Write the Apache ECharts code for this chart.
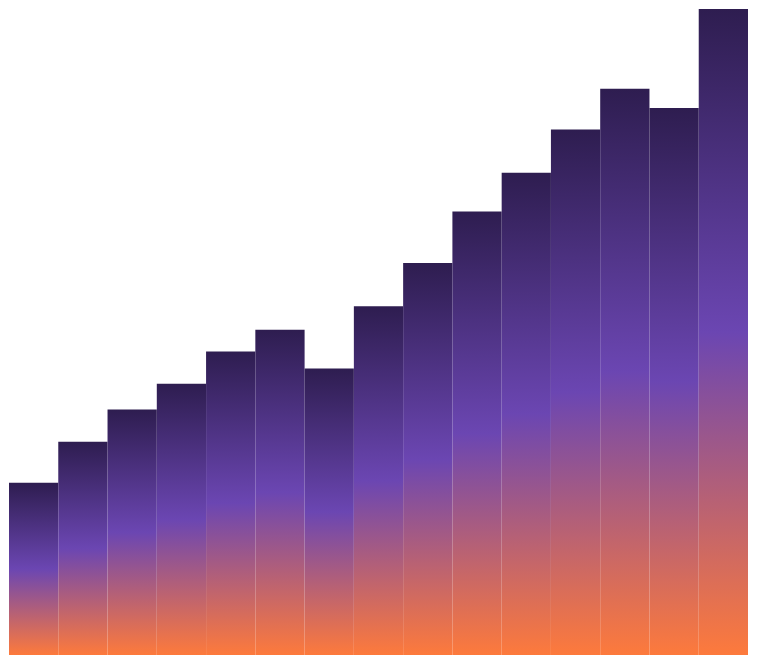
<!DOCTYPE html>
<html>
<head>
<meta charset="utf-8">
<script src="https://cdn.jsdelivr.net/npm/echarts@6/dist/echarts.min.js"></script>
<style>html,body{margin:0;padding:0;background:#fff}#c{width:758px;height:665px}</style>
</head>
<body>
<div id="c"></div>
<script>
const categories = ['1','2','3','4','5','6','7','8','9','10','11','12','13','14','15'];
const values = [80, 99, 114, 126, 141, 151, 133, 162, 182, 206, 224, 244, 263, 254, 300];
const gradientColors = ['#2e1d50', '#6b46b2', '#fd7a3c'];

const chart = echarts.init(document.getElementById('c'));
chart.setOption({
  animation: false,
  grid: { left: 9, right: 10, top: 9, bottom: 10 },
  xAxis: { type: 'category', data: categories, show: false },
  yAxis: { type: 'value', min: 0, max: 300, show: false },
  series: [{
    type: 'bar',
    data: values,
    barCategoryGap: 0,
    itemStyle: {
      color: new echarts.graphic.LinearGradient(0, 0, 0, 1, [
        { offset: 0, color: gradientColors[0] },
        { offset: 0.5, color: gradientColors[1] },
        { offset: 1, color: gradientColors[2] }
      ])
    }
  }]
});
</script>
</body>
</html>
